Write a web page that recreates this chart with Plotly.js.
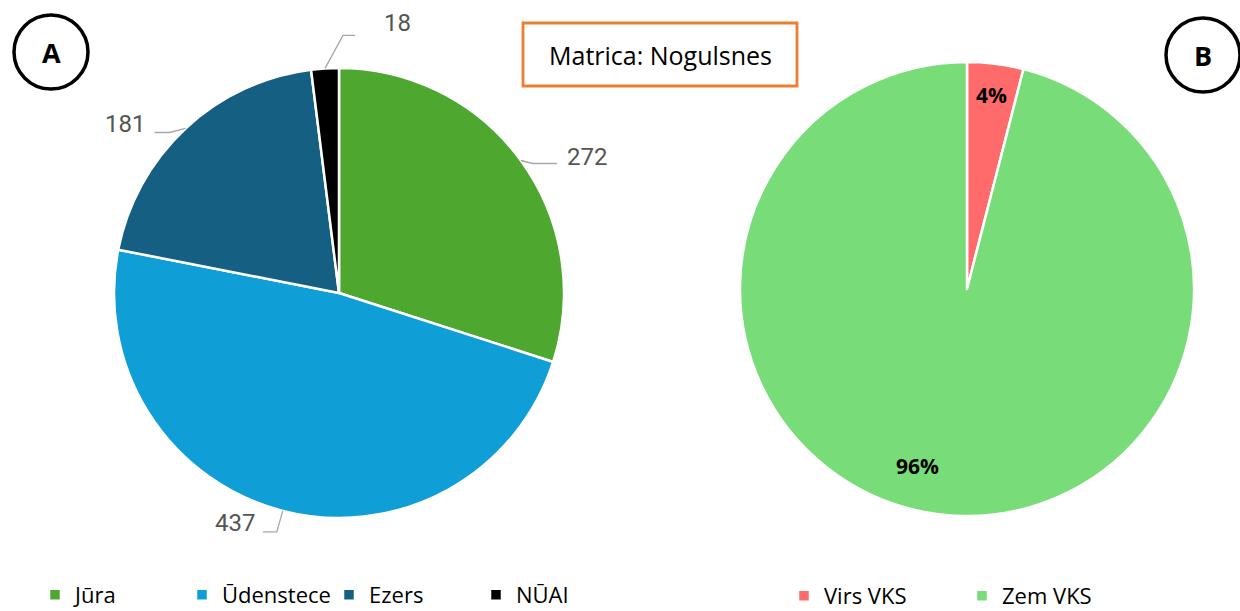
<!DOCTYPE html>
<html>
<head>
<meta charset="utf-8">
<script src="https://cdn.plot.ly/plotly-3.0.1.min.js"></script>
<style>html,body{margin:0;padding:0;background:#fff;}#chart{width:1240px;height:611px;}</style>
</head>
<body>
<div id="chart"></div>
<script>
// ---- data ----
const catA = ['Jūra', 'Ūdenstece', 'Ezers', 'NŪAI'];
const valA = [272, 437, 181, 18];
const catB = ['Virs VKS', 'Zem VKS'];
const valB = [4, 96];
const pctLabelsB = ['4%', '96%'];
const boxTitle = 'Matrica: Nogulsnes';
const panelLetters = ['A', 'B'];

// ---- style / layout ----
const W = 1240, H = 611;
const colorsA = ['#4EA72E', '#0F9ED5', '#156082', '#000000'];
const colorsB = ['#FF6B6B', '#78DC78'];
const pieA = {cx: 339, cy: 293, r: 225};
const pieB = {cx: 967, cy: 289, r: 227};
// leader line geometry (px offsets from slice edge)
const leaderA = [
  {kx: 12, ky: 3, len: 24, tx: 8, ty: -6},
  {kx: -6, ky: 21, len: -14, tx: -6, ty: -9},
  {kx: -16, ky: 4, len: -15, tx: -7, ty: -8},
  {kx: 18, ky: -33, len: 12, tx: 27, ty: -12}
];
const pctPosB = [{f: 0.86, da: 0}, {f: 0.81, da: 8.4}];

function dom(p) {
  return {x: [(p.cx - p.r) / W, (p.cx + p.r) / W], y: [1 - (p.cy + p.r) / H, 1 - (p.cy - p.r) / H]};
}
function mids(vals) {
  const t = vals.reduce((a, b) => a + b, 0); let c = 0;
  return vals.map(v => { const m = (c + v / 2) / t * 360; c += v; return m; });
}
function pt(p, ang, f) {
  const a = ang * Math.PI / 180;
  return [p.cx + f * p.r * Math.sin(a), p.cy - f * p.r * Math.cos(a)];
}
const X = x => x / W, Y = y => 1 - y / H;

const traces = [
  {type: 'pie', labels: catA, values: valA, sort: false, direction: 'clockwise', rotation: 0,
   marker: {colors: colorsA, line: {color: '#ffffff', width: 2.5}}, textinfo: 'none', hoverinfo: 'label+value',
   domain: dom(pieA), legend: 'legend', automargin: false},
  {type: 'pie', labels: catB, values: valB, sort: false, direction: 'clockwise', rotation: 0,
   marker: {colors: colorsB, line: {color: '#ffffff', width: 2.5}}, textinfo: 'none', hoverinfo: 'label+percent',
   domain: dom(pieB), legend: 'legend2', automargin: false}
];

const shapes = [], annotations = [];
// leader lines and value labels for pie A
mids(valA).forEach((m, i) => {
  const s = leaderA[i];
  const E = pt(pieA, m, 1.0);
  const K = [E[0] + s.kx, E[1] + s.ky];
  const L = [K[0] + s.len, K[1]];
  shapes.push({type: 'path', xref: 'paper', yref: 'paper',
    path: `M${X(E[0])},${Y(E[1])} L${X(K[0])},${Y(K[1])} L${X(L[0])},${Y(L[1])}`,
    line: {color: '#A6A6A6', width: 1.3}});
  annotations.push({xref: 'paper', yref: 'paper', x: X(L[0] + s.tx), y: Y(L[1] + s.ty),
    text: String(valA[i]), showarrow: false, xanchor: s.len > 0 ? 'left' : 'right', yanchor: 'middle',
    font: {family: 'Roboto', size: 24, color: '#555555'}});
});
// percentage labels for pie B
mids(valB).forEach((m, i) => {
  const P = pt(pieB, m + pctPosB[i].da, pctPosB[i].f);
  annotations.push({xref: 'paper', yref: 'paper', x: X(P[0]), y: Y(P[1]), text: '<b>' + pctLabelsB[i] + '</b>',
    showarrow: false, xanchor: 'center', yanchor: 'middle',
    font: {family: 'Open Sans', size: 21, color: '#000000'}});
});
// title box
shapes.push({type: 'rect', xref: 'paper', yref: 'paper', x0: X(523), x1: X(797), y0: Y(86), y1: Y(23),
  line: {color: '#ED7D31', width: 2.8}, fillcolor: 'rgba(0,0,0,0)'});
annotations.push({xref: 'paper', yref: 'paper', x: X(660), y: Y(55), text: boxTitle, showarrow: false,
  xanchor: 'center', yanchor: 'middle', font: {family: 'Open Sans', size: 25, color: '#000000'}});
// panel letters in circles
[[51, 52], [1203, 55]].forEach((c, i) => {
  shapes.push({type: 'circle', xref: 'paper', yref: 'paper', x0: X(c[0] - 37), x1: X(c[0] + 37),
    y0: Y(c[1] + 37), y1: Y(c[1] - 37), line: {color: '#000000', width: 3.5}});
  annotations.push({xref: 'paper', yref: 'paper', x: X(c[0]), y: Y(c[1]), text: '<b>' + panelLetters[i] + '</b>',
    showarrow: false, xanchor: 'center', yanchor: 'middle', font: {family: 'Open Sans', size: 27, color: '#000000'}});
});

const legendFont = {family: 'Open Sans', size: 22, color: '#000000'};
const layout = {
  width: W, height: H, margin: {l: 0, r: 0, t: 0, b: 0, autoexpand: false},
  paper_bgcolor: '#ffffff', plot_bgcolor: '#ffffff',
  showlegend: true,
  legend: {orientation: 'h', x: X(35), y: Y(574), xanchor: 'left', yanchor: 'top', font: legendFont,
    entrywidth: 102, entrywidthmode: 'pixels', bgcolor: 'rgba(0,0,0,0)', itemclick: false},
  legend2: {orientation: 'h', x: X(784), y: Y(575), xanchor: 'left', yanchor: 'top', font: legendFont,
    entrywidth: 133, entrywidthmode: 'pixels', bgcolor: 'rgba(0,0,0,0)', itemclick: false},
  shapes: shapes, annotations: annotations
};
Plotly.newPlot('chart', traces, layout, {displayModeBar: false, staticPlot: true});
</script>
</body>
</html>
